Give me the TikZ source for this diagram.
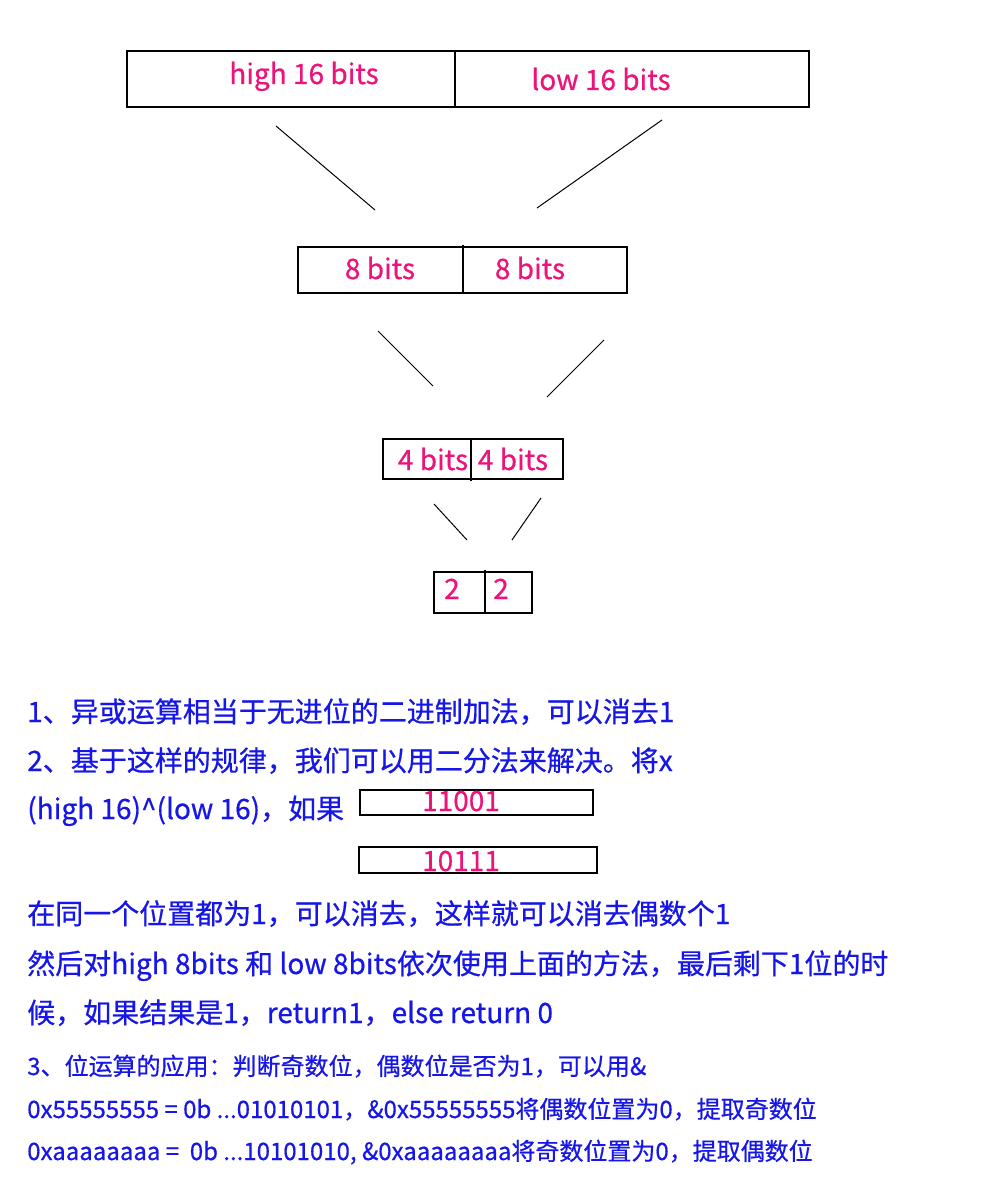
\documentclass[tikz,border=0pt]{standalone}
\usepackage{fontspec}
\setmainfont{Noto Sans CJK SC}[FakeBold=0.6]
\definecolor{bitpink}{RGB}{236,20,122}
\definecolor{noteblue}{RGB}{22,22,230}
\tikzset{
  bitbox/.style={draw=black, line width=1pt},
  split/.style={line width=0.75pt},
  bitlabel/.style={text=bitpink, anchor=base, inner sep=0pt, font=\fontsize{21}{25}\selectfont},
  note/.style={text=noteblue, anchor=base west, inner sep=0pt, font=\fontsize{21}{25}\selectfont},
  smallnote/.style={note, font=\fontsize{18}{22}\selectfont}
}

\begin{document}
\begin{tikzpicture}[x=0.75pt, y=-0.75pt]
			%%%%% START %%%%%
			\useasboundingbox (0, 0) rectangle (986, 1194);
			
			% 32 bits
			\draw[bitbox] (127, 51) rectangle (809, 107);
			\draw[bitbox] (455, 51) -- (455, 107);
			\node[bitlabel] (high16) at (304, 84) {high 16 bits};
			\node[bitlabel] (low16) at (601, 90) {low 16 bits};
			
			\draw[split] (276, 126) -- (375, 210);
			\draw[split] (662, 120) -- (537, 208);
			
			% 16 bits
			\draw[bitbox] (298, 247) rectangle (627, 293);
			\draw[bitbox] (463, 245) -- (463, 292);
			\node[bitlabel] (high8) at (380, 279) {8 bits};
			\node[bitlabel] (low8) at (530, 279) {8 bits};
			
			\draw[split] (378, 331) -- (433, 386);
			\draw[split] (604, 340) -- (547, 397);
			
			% 8 bits
			\draw[bitbox] (383, 439) rectangle (563, 479);
			\draw[bitbox] (471, 440) -- (471, 481);
			\node[bitlabel] (high4) at (433, 470) {4 bits};
			\node[bitlabel] (low4) at (513, 470) {4 bits};
			
			\draw[split] (434, 504) -- (467, 540);
			\draw[split] (541, 498) -- (512, 540);
			
			% 4 bits
			\draw[bitbox] (434, 572) rectangle (532, 613);
			\draw[bitbox] (485, 570) -- (485, 613);
			\node[bitlabel] (high2) at (452, 599) {2};
			\node[bitlabel] (low2) at (501, 599) {2};
			
			% notes
			\node[note] (line1) at (27, 722) {1、异或运算相当于无进位的二进制加法，可以消去1};
			\node[note] (line2) at (27, 771) {2、基于这样的规律，我们可以用二分法来解决。将x};
			\node[note] (line3) at (27, 819) {(high 16)\textasciicircum(low 16)，如果};
			
			\draw[bitbox] (360, 790) rectangle (593, 815);
			\node[bitlabel] (xa) at (461, 811) {11001};
			\draw[bitbox] (359, 847) rectangle (597, 873);
			\node[bitlabel] (xb) at (461, 871) {10111};
			
			\node[note] (line4) at (27, 924) {在同一个位置都为1，可以消去，这样就可以消去偶数个1};
			\node[note] (line5) at (27, 974) {然后对high 8bits 和 low 8bits依次使用上面的方法，最后剩下1位的时};
			\node[note] (line6) at (27, 1023) {候，如果结果是1，return1，else return 0};
			
			\node[smallnote] (line7) at (27, 1075) {3、位运算的应用：判断奇数位，偶数位是否为1，可以用\&};
			\node[smallnote] (line8) at (27, 1118) {0x55555555 = 0b ...01010101，\&0x55555555将偶数位置为0，提取奇数位};
			\node[smallnote] (line9) at (27, 1160) {0xaaaaaaaa = \ 0b ...10101010, \&0xaaaaaaaa将奇数位置为0，提取偶数位};
			%%%%% END %%%%%
\end{tikzpicture}
\end{document}
